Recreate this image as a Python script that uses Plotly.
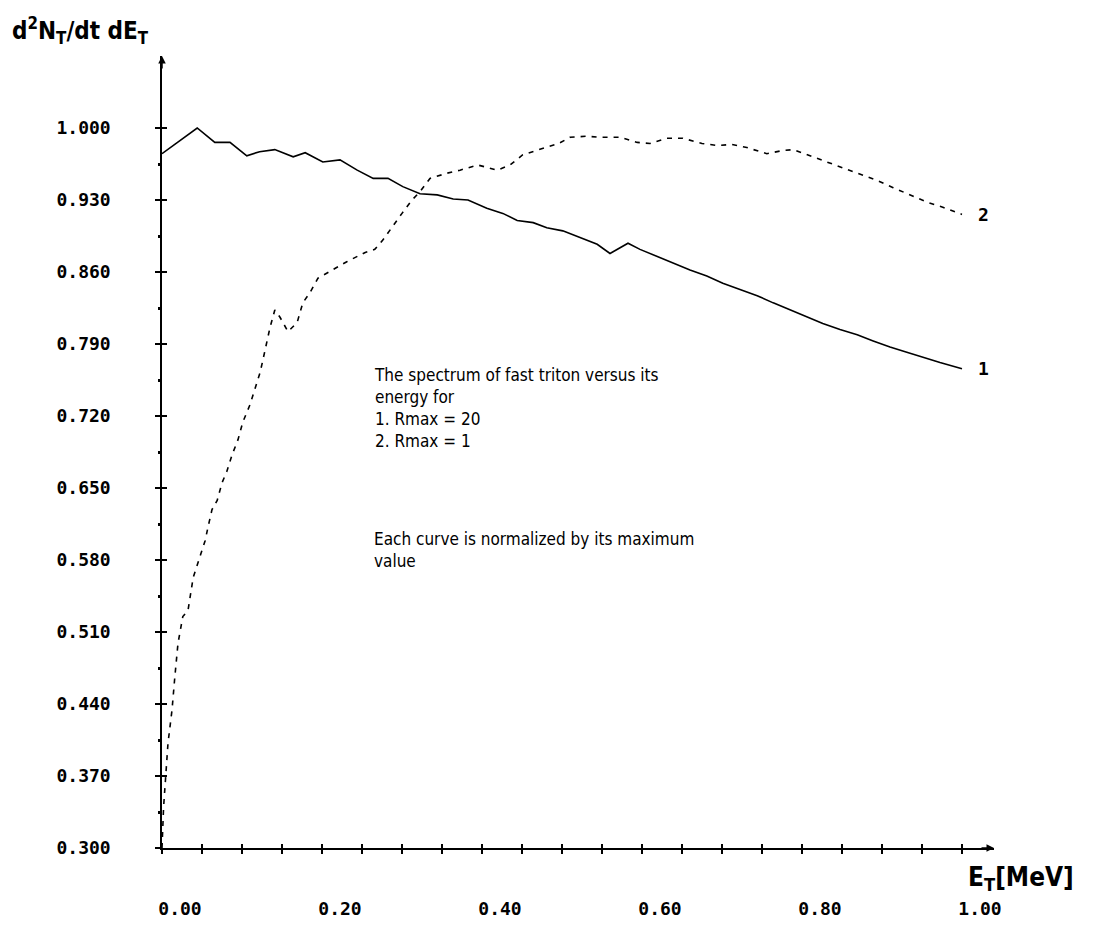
import plotly.graph_objects as go

# ---- data ----
energy_1 = [0.0, 0.044, 0.066, 0.085, 0.106, 0.122, 0.141, 0.164, 0.179, 0.201, 0.2225,
            0.244, 0.264, 0.2825, 0.301, 0.3225, 0.344, 0.364, 0.3825, 0.406, 0.426,
            0.444, 0.464, 0.481, 0.501, 0.525, 0.544, 0.56, 0.5825, 0.5975, 0.619,
            0.639, 0.66, 0.681, 0.701, 0.7225, 0.744, 0.764, 0.785, 0.806, 0.826,
            0.8475, 0.869, 0.889, 0.91, 0.931, 0.951, 0.9725, 1.0]
spectrum_1 = [0.975, 1.000, 0.986, 0.986, 0.973, 0.977, 0.979, 0.972, 0.976, 0.967, 0.969,
              0.959, 0.951, 0.951, 0.943, 0.936, 0.935, 0.931, 0.930, 0.922, 0.917,
              0.910, 0.908, 0.903, 0.900, 0.893, 0.887, 0.878, 0.888, 0.882, 0.875,
              0.869, 0.862, 0.856, 0.849, 0.843, 0.837, 0.830, 0.823, 0.816, 0.810,
              0.804, 0.799, 0.793, 0.787, 0.782, 0.777, 0.772, 0.766]

energy_2 = [0.0, 0.002, 0.0075, 0.0125, 0.016, 0.02, 0.026, 0.0325, 0.039, 0.0475, 0.054,
            0.0575, 0.0625, 0.069, 0.075, 0.081, 0.0875, 0.095, 0.101, 0.11, 0.116,
            0.1225, 0.126, 0.131, 0.135, 0.141, 0.1475, 0.1575, 0.169, 0.176, 0.185,
            0.195, 0.2125, 0.231, 0.254, 0.266, 0.276, 0.2875, 0.30, 0.3125, 0.3225,
            0.335, 0.356, 0.3725, 0.395, 0.419, 0.435, 0.451, 0.476, 0.496, 0.51,
            0.531, 0.5475, 0.5725, 0.594, 0.61, 0.631, 0.651, 0.675, 0.694, 0.7125,
            0.731, 0.756, 0.775, 0.789, 0.81, 0.831, 0.851, 0.8725, 0.894, 0.914,
            0.935, 0.956, 0.976, 1.0]
spectrum_2 = [0.300, 0.340, 0.402, 0.434, 0.466, 0.499, 0.525, 0.531, 0.563, 0.583, 0.599,
              0.612, 0.629, 0.638, 0.655, 0.666, 0.682, 0.697, 0.714, 0.731, 0.745,
              0.762, 0.774, 0.792, 0.806, 0.823, 0.816, 0.802, 0.811, 0.830, 0.840,
              0.854, 0.862, 0.870, 0.879, 0.882, 0.891, 0.904, 0.917, 0.930, 0.938,
              0.951, 0.956, 0.959, 0.964, 0.959, 0.964, 0.974, 0.980, 0.985, 0.991,
              0.992, 0.991, 0.991, 0.986, 0.985, 0.990, 0.990, 0.985, 0.983, 0.984,
              0.981, 0.975, 0.978, 0.979, 0.973, 0.967, 0.961, 0.955, 0.949, 0.942,
              0.935, 0.928, 0.923, 0.916]

y_tick_values = [0.30, 0.37, 0.44, 0.51, 0.58, 0.65, 0.72, 0.79, 0.86, 0.93, 1.00]
y_tick_labels = ["0.300", "0.370", "0.440", "0.510", "0.580", "0.650",
                 "0.720", "0.790", "0.860", "0.930", "1.000"]
y_minor_values = [0.335, 0.405, 0.475, 0.545, 0.615, 0.685, 0.755, 0.825, 0.895, 0.965]
x_tick_values = [0.0, 0.05, 0.10, 0.15, 0.20, 0.25, 0.30, 0.35, 0.40, 0.45, 0.50,
                 0.55, 0.60, 0.65, 0.70, 0.75, 0.80, 0.85, 0.90, 0.95, 1.00]
x_label_values = {0.0: "0.00", 0.20: "0.20", 0.40: "0.40", 0.60: "0.60",
                  0.80: "0.80", 1.00: "1.00"}

curve_names = ["1", "2"]
note_text = ("The spectrum of fast triton versus its<br>energy for<br>"
             "1. Rmax = 20<br>2. Rmax = 1")
note_text2 = "Each curve is normalized by its maximum<br>value"

X_RANGE = [0.0, 1.04]
Y_RANGE = [0.30, 1.07]

TEXT_FAMILY = "DejaVu Sans Condensed, DejaVu Sans, sans-serif"
text_font = dict(family=TEXT_FAMILY, size=17, color="black")
title_font = dict(family=TEXT_FAMILY, size=24, color="black", weight="bold")
xtitle_font = dict(family=TEXT_FAMILY, size=26, color="black", weight="bold")
tick_font = dict(family="DejaVu Sans Mono, monospace", size=18, color="black", weight="bold")

x_ticktext = [x_label_values.get(round(v, 2), "") for v in x_tick_values]

fig = go.Figure()
fig.add_trace(go.Scatter(x=energy_1, y=spectrum_1, mode="lines",
                         line=dict(color="black", width=1.6), showlegend=False))
fig.add_trace(go.Scatter(x=energy_2, y=spectrum_2, mode="lines",
                         line=dict(color="black", width=1.6, dash="5px,6px"), showlegend=False))
# empty helper trace so the overlay axes (inner tick halves) are drawn
fig.add_trace(go.Scatter(x=[], y=[], xaxis="x2", yaxis="y2", showlegend=False))

fig.update_layout(
    width=1091, height=931,
    paper_bgcolor="white", plot_bgcolor="white",
    margin=dict(l=154, r=105, t=48, b=91),
    xaxis=dict(range=X_RANGE, showgrid=False, zeroline=False, showline=True,
               linecolor="black", linewidth=1.5,
               tickmode="array", tickvals=x_tick_values, ticktext=x_ticktext,
               ticks="outside", ticklen=4, tickwidth=1.5, tickcolor="black",
               tickfont=tick_font, ticklabelstandoff=40, ticklabelshift=18),
    yaxis=dict(range=Y_RANGE, showgrid=False, zeroline=False, showline=True,
               linecolor="black", linewidth=1.5,
               tickmode="array", tickvals=y_tick_values, ticktext=y_tick_labels,
               ticks="outside", ticklen=5, tickwidth=1.5, tickcolor="black",
               tickfont=tick_font, ticklabelstandoff=41,
               minor=dict(tickmode="array", tickvals=y_minor_values, ticks="outside",
                          ticklen=2, tickwidth=3, tickcolor="black")),
    xaxis2=dict(range=X_RANGE, overlaying="x", side="bottom", showgrid=False,
                zeroline=False, showline=False, tickmode="array", tickvals=x_tick_values,
                showticklabels=False, ticks="inside", ticklen=4, tickwidth=1.5,
                tickcolor="black"),
    yaxis2=dict(range=Y_RANGE, overlaying="y", side="left", showgrid=False,
                zeroline=False, showline=False, tickmode="array", tickvals=y_tick_values,
                showticklabels=False, ticks="inside", ticklen=5, tickwidth=1.5,
                tickcolor="black"),
)

annotations = [
    dict(text="d<sup>2</sup>N<sub>T</sub>/dt dE<sub>T</sub>", xref="paper", yref="paper",
         x=-0.1827, y=1.0, xanchor="left", yanchor="bottom", yshift=6, showarrow=False,
         font=title_font),
    dict(text="E<sub>T</sub>[MeV]", xref="x domain", yref="y domain", x=1.0, y=0.0,
         xanchor="left", yanchor="top", xshift=-28, yshift=-12, showarrow=False,
         font=xtitle_font),
    dict(text=note_text, xref="x", yref="y", x=0.2625, y=0.772, xanchor="left",
         yanchor="top", align="left", showarrow=False, font=text_font),
    dict(text=note_text2, xref="x", yref="y", x=0.2625, y=0.612, xanchor="left",
         yanchor="top", align="left", showarrow=False, font=text_font),
    dict(text=curve_names[0], xref="x", yref="y", x=energy_1[-1],
         y=spectrum_1[-1], xanchor="left", xshift=14, showarrow=False, font=tick_font),
    dict(text=curve_names[1], xref="x", yref="y", x=energy_2[-1],
         y=spectrum_2[-1], xanchor="left", xshift=14, showarrow=False, font=tick_font),
    # axis arrowheads
    dict(xref="x domain", yref="y domain", x=1.0, y=0.0, ax=-14, ay=0, text="",
         showarrow=True, arrowhead=2, arrowsize=1, arrowwidth=1.5, arrowcolor="black"),
    dict(xref="x domain", yref="y domain", x=0.0, y=1.0, ax=0, ay=14, text="",
         showarrow=True, arrowhead=2, arrowsize=1, arrowwidth=1.5, arrowcolor="black"),
]
fig.update_layout(annotations=annotations)

fig.write_html("out.html")
